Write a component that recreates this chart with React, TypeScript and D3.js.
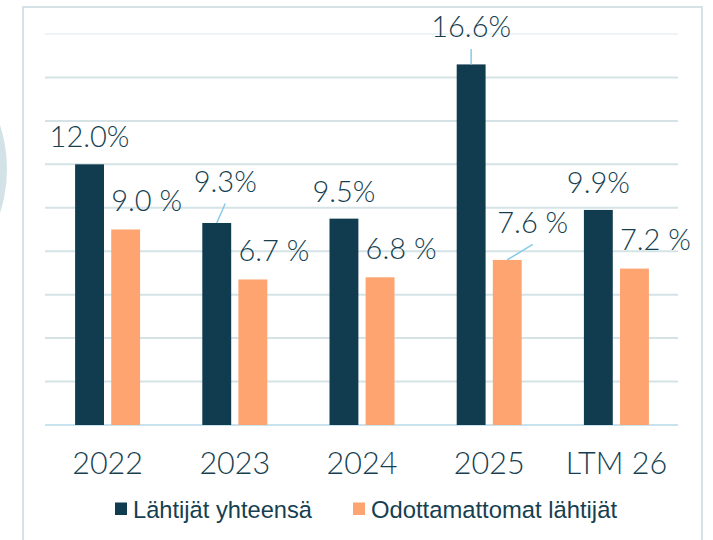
import React, { useRef, useEffect } from 'react';
import * as d3 from 'd3';

const categories = ['2022', '2023', '2024', '2025', 'LTM 26'];
const totalLeavers = [12.0, 9.3, 9.5, 16.6, 9.9];
const unexpectedLeavers = [9.0, 6.7, 6.8, 7.6, 7.2];
const totalLabels = ['12.0%', '9.3%', '9.5%', '16.6%', '9.9%'];
const unexpectedLabels = ['9.0 %', '6.7 %', '6.8 %', '7.6 %', '7.2 %'];
const seriesNames = ['Lähtijät yhteensä', 'Odottamattomat lähtijät'];
const yTicks = [0, 2, 4, 6, 8, 10, 12, 14, 16, 18];

const WIDTH = 713;
const HEIGHT = 540;
const DARK = '#113c4f';
const ORANGE = '#fea471';
const TEXT = '#163f51';
const GRID = '#d5e3e7';
const LEADER = '#86cbe8';
const FONT = 'Lato, "Open Sans", sans-serif';

// labels that were moved away from their bar and get a leader line
const nudges: Record<string, { dx: number; dy: number }> = {
  'total-1': { dx: 8.5, dy: -14 },
  'total-3': { dx: 0, dy: -10 },
  'unexp-3': { dx: 4.5, dy: -8.5 },
};

const App: React.FC = () => {
  const ref = useRef<SVGSVGElement>(null);

  useEffect(() => {
    const svg = d3.select(ref.current);
    svg.selectAll('*').remove();

    const x = d3.scaleBand<string>().domain(categories).range([44, 680]);
    const inner = d3
      .scaleBand<number>()
      .domain([0, 1])
      .range([-32.5, 32.5])
      .paddingInner(0.2);
    const y = d3.scaleLinear().domain([0, 18]).range([425, 34]);

    // decorative circle peeking in at the left edge
    svg
      .append('circle')
      .attr('cx', -135)
      .attr('cy', 169)
      .attr('r', 142)
      .attr('fill', '#d3e2e6');

    // frame
    svg
      .append('rect')
      .attr('x', 23)
      .attr('y', 7)
      .attr('width', 679)
      .attr('height', 560)
      .attr('fill', '#ffffff')
      .attr('stroke', GRID)
      .attr('stroke-width', 2);

    // gridlines
    svg
      .append('g')
      .selectAll('line')
      .data(yTicks)
      .enter()
      .append('line')
      .attr('x1', 45)
      .attr('x2', 678)
      .attr('y1', (d) => y(d))
      .attr('y2', (d) => y(d))
      .attr('stroke', (d) => (d === 0 ? '#c8e2ee' : d === 18 ? '#eef3f5' : GRID))
      .attr('stroke-width', 2);

    const series = [
      { key: 'total', values: totalLeavers, labels: totalLabels, color: DARK },
      { key: 'unexp', values: unexpectedLeavers, labels: unexpectedLabels, color: ORANGE },
    ];

    series.forEach((s, si) => {
      const g = svg.append('g');
      g.selectAll('rect')
        .data(s.values)
        .enter()
        .append('rect')
        .attr('x', (_, i) => x(categories[i])! + x.bandwidth() / 2 + inner(si)!)
        .attr('y', (d) => y(d))
        .attr('width', inner.bandwidth())
        .attr('height', (d) => y(0) - y(d))
        .attr('fill', s.color);

      s.values.forEach((v, i) => {
        const barCx = x(categories[i])! + x.bandwidth() / 2 + inner(si)! + inner.bandwidth() / 2;
        const top = y(v);
        const n = nudges[`${s.key}-${i}`];
        const baseX = si === 0 ? barCx : barCx + 21;
        const baseY = si === 0 ? top - 17 : top - 18.5;
        const lx = baseX + (n ? n.dx : 0);
        const ly = baseY + (n ? n.dy : 0);
        if (n) {
          g.append('line')
            .attr('x1', barCx)
            .attr('y1', top)
            .attr('x2', lx)
            .attr('y2', ly + 11.5)
            .attr('stroke', LEADER)
            .attr('stroke-width', 1.5);
        }
        g.append('text')
          .attr('x', lx)
          .attr('y', ly)
          .attr('text-anchor', 'middle')
          .attr('font-family', FONT)
          .attr('font-weight', 300)
          .attr('font-size', 29)
          .attr('fill', TEXT)
          .text(s.labels[i]);
      });
    });

    // category labels
    svg
      .append('g')
      .selectAll('text')
      .data(categories)
      .enter()
      .append('text')
      .attr('x', (d) => x(d)! + x.bandwidth() / 2)
      .attr('y', 474)
      .attr('text-anchor', 'middle')
      .attr('font-family', FONT)
      .attr('font-weight', 300)
      .attr('font-size', 30.5)
      .attr('fill', TEXT)
      .text((d) => d);

    // legend (condensed sans, squeezed to the original widths)
    const legendX = [115, 353];
    const legendW = [179, 246];
    const legend = svg.append('g');
    seriesNames.forEach((name, i) => {
      legend
        .append('rect')
        .attr('x', legendX[i])
        .attr('y', 502.5)
        .attr('width', 12)
        .attr('height', 12.5)
        .attr('fill', i === 0 ? DARK : ORANGE);
      legend
        .append('text')
        .attr('x', legendX[i] + 18)
        .attr('y', 518)
        .attr('font-family', '"Liberation Sans", Arial, sans-serif')
        .attr('font-size', 24.5)
        .attr('textLength', legendW[i])
        .attr('lengthAdjust', 'spacingAndGlyphs')
        .attr('fill', TEXT)
        .text(name);
    });
  }, []);

  return (
    <svg
      ref={ref}
      width={WIDTH}
      height={HEIGHT}
      style={{ position: 'absolute', left: 0, top: 0, background: '#ffffff' }}
    />
  );
};

export default App;
